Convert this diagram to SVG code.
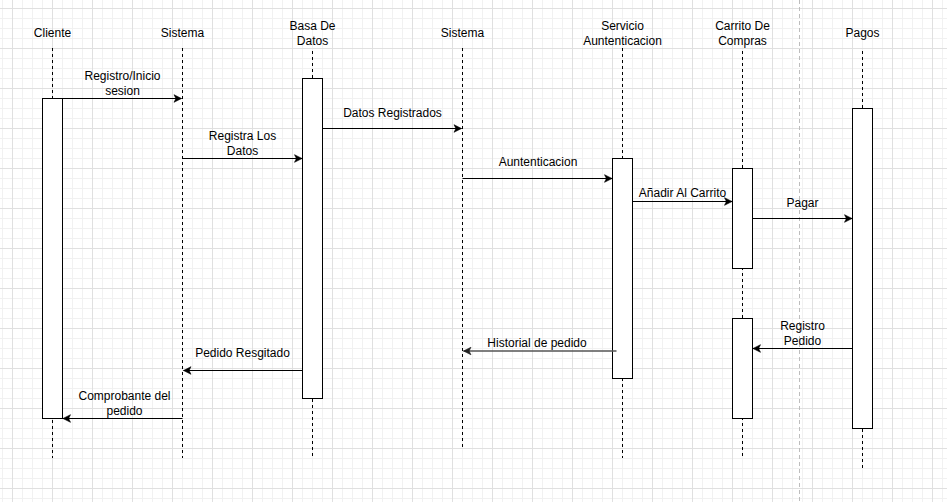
<svg xmlns="http://www.w3.org/2000/svg" width="947" height="502" viewBox="0 0 947 502">
<defs>
<pattern id="grid" x="12" y="8" width="40" height="40" patternUnits="userSpaceOnUse">
<path d="M10.5,0V40M20.5,0V40M30.5,0V40M0,10.5H40M0,20.5H40M0,30.5H40" fill="none" stroke="#f1f1f1" stroke-width="1"/>
<path d="M0.5,0V40M0,0.5H40" fill="none" stroke="#e0e0e0" stroke-width="1"/>
</pattern>
<marker id="arr" viewBox="-9 -5 10 10" refX="0" refY="0" markerWidth="10" markerHeight="10" markerUnits="userSpaceOnUse" orient="auto">
<path d="M0,0 L-7.5,-3.8 L-5.6,0 L-7.5,3.8 Z" fill="#000" stroke="#000" stroke-width="0.6"/>
</marker>
<marker id="arrg" viewBox="-9 -5 10 10" refX="0" refY="0" markerWidth="10" markerHeight="10" markerUnits="userSpaceOnUse" orient="auto">
<path d="M0,0 L-7.5,-3.8 L-5.6,0 L-7.5,3.8 Z" fill="#222" stroke="#222" stroke-width="0.6"/>
</marker>
</defs>
<style>
text{font-family:"Liberation Sans",Arial,sans-serif;font-size:12px;fill:#000;text-anchor:middle}
.life{stroke:#000;stroke-width:1;stroke-dasharray:3 3;fill:none}
.act{fill:#fff;stroke:#000;stroke-width:1}
.msg{stroke:#000;stroke-width:1;fill:none;marker-end:url(#arr)}
</style>
<rect width="947" height="502" fill="#fff"/>
<rect width="947" height="502" fill="url(#grid)"/>
<line x1="799.5" y1="0" x2="799.5" y2="502" stroke="#bdbdbd" stroke-width="1" stroke-dasharray="4 3"/>

<g id="cliente">
<text x="52.5" y="37">Cliente</text>
<line class="life" x1="52.5" y1="48" x2="52.5" y2="458"/>
<rect class="act" x="42.5" y="98.5" width="20" height="320"/>
</g>
<g id="sistema1">
<text x="182.5" y="37">Sistema</text>
<line class="life" x1="182.5" y1="48" x2="182.5" y2="458"/>
</g>
<g id="basededatos">
<text x="312.5" y="30.3">Basa De</text>
<text x="312.5" y="44.7">Datos</text>
<line class="life" x1="312.5" y1="51" x2="312.5" y2="458"/>
<rect class="act" x="302.5" y="78.5" width="20" height="320"/>
</g>
<g id="sistema2">
<text x="462.5" y="37">Sistema</text>
<line class="life" x1="462.5" y1="48" x2="462.5" y2="448"/>
</g>
<g id="servicio">
<text x="622.5" y="30.3">Servicio</text>
<text x="622.5" y="44.7">Auntenticacion</text>
<line class="life" x1="622.5" y1="48" x2="622.5" y2="458"/>
<rect class="act" x="612.5" y="158.5" width="20" height="220"/>
</g>
<g id="carrito">
<text x="742.5" y="30.3">Carrito De</text>
<text x="742.5" y="44.7">Compras</text>
<line class="life" x1="742.5" y1="51" x2="742.5" y2="458"/>
<rect class="act" x="732.5" y="168.5" width="20" height="100"/>
<rect class="act" x="732.5" y="318.5" width="20" height="100"/>
</g>
<g id="pagos">
<text x="862.5" y="37">Pagos</text>
<line class="life" x1="862.5" y1="51" x2="862.5" y2="468"/>
<rect class="act" x="852.5" y="108.5" width="20" height="320"/>
</g>

<g id="connectors">
<line class="msg" x1="62.5" y1="98.5" x2="181.5" y2="98.5"/>
<text x="122.5" y="80.3">Registro/Inicio</text>
<text x="122.5" y="94.7">sesion</text>

<line class="msg" x1="182.5" y1="158.5" x2="302" y2="158.5"/>
<text x="242.5" y="140.3">Registra Los</text>
<text x="242.5" y="154.7">Datos</text>

<line class="msg" x1="322.5" y1="128.5" x2="461.5" y2="128.5"/>
<text x="392.5" y="117">Datos Registrados</text>

<line class="msg" x1="462.5" y1="178.5" x2="612" y2="178.5"/>
<text x="538" y="166">Auntenticacion</text>

<line class="msg" x1="632.5" y1="201.5" x2="732" y2="201.5"/>
<text x="682.5" y="197">Añadir Al Carrito</text>

<line class="msg" x1="752.5" y1="218.5" x2="852" y2="218.5"/>
<text x="802.5" y="207">Pagar</text>

<line class="msg" x1="852.5" y1="348.5" x2="753" y2="348.5"/>
<text x="802.5" y="330">Registro</text>
<text x="802.5" y="344.5">Pedido</text>

<line x1="616.5" y1="351" x2="463.5" y2="351" stroke="#555" stroke-width="1.5" fill="none" marker-end="url(#arrg)"/>
<text x="537" y="347">Historial de pedido</text>

<line class="msg" x1="302.5" y1="370.5" x2="183.5" y2="370.5"/>
<text x="242.5" y="357">Pedido Resgitado</text>

<line class="msg" x1="182.5" y1="418.5" x2="63" y2="418.5"/>
<text x="124.5" y="400.3">Comprobante del</text>
<text x="124.5" y="414.7">pedido</text>
</g>
</svg>
